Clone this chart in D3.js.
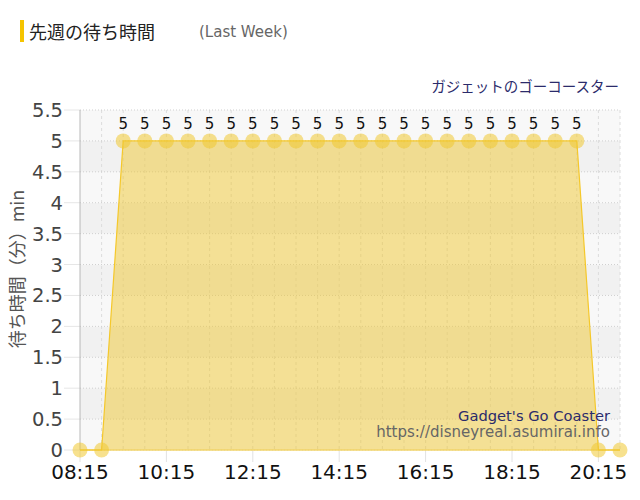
<!DOCTYPE html>
<html>
<head>
<meta charset="utf-8">
<script src="https://cdn.jsdelivr.net/npm/d3@7"></script>
<style>
  body { margin: 0; background: #fff; }
  svg { display: block; }
</style>
</head>
<body>
<div id="chart"></div>
<script>
// wait times for last week, every 30 minutes
const times = ['08:15','08:45','09:15','09:45','10:15','10:45','11:15','11:45','12:15','12:45',
  '13:15','13:45','14:15','14:45','15:15','15:45','16:15','16:45','17:15','17:45',
  '18:15','18:45','19:15','19:45','20:15','20:45'];
const waits = [0,0,5,5,5,5,5,5,5,5,5,5,5,5,5,5,5,5,5,5,5,5,5,5,0,0];
const xTicks = ['08:15','10:15','12:15','14:15','16:15','18:15','20:15'];
const yTicks = [0,0.5,1,1.5,2,2.5,3,3.5,4,4.5,5,5.5];

const W = 640, H = 500;
const m = {t: 110, r: 20, b: 50, l: 80};
const jp = '"Noto Sans CJK JP", "DejaVu Sans", sans-serif';
const lat = '"DejaVu Sans", Verdana, sans-serif';

const parse = d3.timeParse('%H:%M');
const data = times.map((t, i) => ({t: parse(t), v: waits[i]}));

const svg = d3.select('#chart').append('svg').attr('width', W).attr('height', H);

const x = d3.scaleTime().domain(d3.extent(data, d => d.t)).range([m.l, W - m.r]);
const y = d3.scaleLinear().domain([0, 5.5]).range([H - m.b, m.t]);

// title
svg.append('rect').attr('x', 20).attr('y', 20).attr('width', 4).attr('height', 22).attr('fill', '#f5c400');
svg.append('text').attr('x', 29).attr('y', 39).attr('font-family', jp).attr('font-size', 18)
  .attr('fill', '#222').text('先週の待ち時間');
svg.append('text').attr('x', 199).attr('y', 37).attr('font-family', lat).attr('font-size', 15)
  .attr('fill', '#666').text('(Last Week)');

// series name
svg.append('text').attr('x', 619).attr('y', 92).attr('text-anchor', 'end').attr('font-family', jp)
  .attr('font-size', 14.5).attr('fill', '#2b2b6b').text('ガジェットのゴーコースター');

// background bands
const g = svg.append('g');
for (let i = 0; i < yTicks.length - 1; i++) {
  g.append('rect')
    .attr('x', m.l).attr('width', W - m.r - m.l)
    .attr('y', y(yTicks[i + 1])).attr('height', y(yTicks[i]) - y(yTicks[i + 1]))
    .attr('fill', i % 2 === 0 ? '#f8f8f8' : '#f1f1f1');
}

// vertical grid every point
g.selectAll('line.vg').data(data.slice(1)).enter().append('line')
  .attr('x1', d => x(d.t)).attr('x2', d => x(d.t))
  .attr('y1', y(5.5)).attr('y2', y(0))
  .attr('stroke', '#dcdcdc').attr('stroke-dasharray', '3,3');

// x tick marks
g.selectAll('line.xt').data(xTicks).enter().append('line')
  .attr('x1', d => x(parse(d))).attr('x2', d => x(parse(d)))
  .attr('y1', y(0)).attr('y2', y(0) + 12)
  .attr('stroke', '#e2e2e2');

// horizontal grid
g.selectAll('line.hg').data(yTicks).enter().append('line')
  .attr('x1', m.l).attr('x2', W - m.r)
  .attr('y1', d => y(d)).attr('y2', d => y(d))
  .attr('stroke', '#cfcfcf').attr('stroke-dasharray', '1,2');
g.selectAll('line.yt').data(yTicks).enter().append('line')
  .attr('x1', m.l - 16).attr('x2', m.l)
  .attr('y1', d => y(d)).attr('y2', d => y(d))
  .attr('stroke', '#e6e6e6');

// left axis line
g.append('line').attr('x1', m.l).attr('x2', m.l).attr('y1', y(5.5)).attr('y2', y(0)).attr('stroke', '#b8b8b8');

// area + line
const area = d3.area().x(d => x(d.t)).y0(y(0)).y1(d => y(d.v));
const line = d3.line().x(d => x(d.t)).y(d => y(d.v));
svg.append('path').attr('d', area(data)).attr('fill', 'rgba(240,200,50,0.5)');
svg.append('line').attr('x1', m.l).attr('x2', W - m.r).attr('y1', y(0)).attr('y2', y(0))
  .attr('stroke', '#f2d46a').attr('stroke-width', 1.5);
svg.append('path').attr('d', line(data)).attr('fill', 'none').attr('stroke', '#f5c82a').attr('stroke-width', 1.2);

// points
svg.selectAll('circle.pt').data(data).enter().append('circle')
  .attr('cx', d => x(d.t)).attr('cy', d => y(d.v)).attr('r', 7.5)
  .attr('fill', 'rgba(240,200,50,0.55)');

// value labels
svg.selectAll('text.lbl').data(data.filter(d => d.v > 0)).enter().append('text')
  .attr('x', d => x(d.t)).attr('y', d => y(d.v) - 12)
  .attr('text-anchor', 'middle').attr('font-family', lat).attr('font-size', 15)
  .attr('fill', '#111').text(d => d.v);

// y tick labels
svg.selectAll('text.yl').data(yTicks).enter().append('text')
  .attr('x', 63).attr('y', d => y(d) + 7)
  .attr('text-anchor', 'end').attr('font-family', lat).attr('font-size', 19.5)
  .attr('fill', '#444').text(d => d);

// x tick labels
svg.selectAll('text.xl').data(xTicks).enter().append('text')
  .attr('x', d => x(parse(d))).attr('y', 479)
  .attr('text-anchor', 'middle').attr('font-family', lat).attr('font-size', 20)
  .attr('fill', '#111').text(d => d);

// y axis title
svg.append('text').attr('transform', 'translate(24,269) rotate(-90)')
  .attr('text-anchor', 'middle').attr('font-family', jp).attr('font-size', 18)
  .attr('fill', '#555').text('待ち時間（分）min');

// watermark
svg.append('text').attr('x', 610).attr('y', 421).attr('text-anchor', 'end').attr('font-family', lat)
  .attr('font-size', 14.7).attr('fill', '#2b2b6b').text("Gadget's Go Coaster");
svg.append('text').attr('x', 610).attr('y', 437).attr('text-anchor', 'end').attr('font-family', lat)
  .attr('font-size', 15).attr('fill', '#666').text('https://disneyreal.asumirai.info');
</script>
</body>
</html>
